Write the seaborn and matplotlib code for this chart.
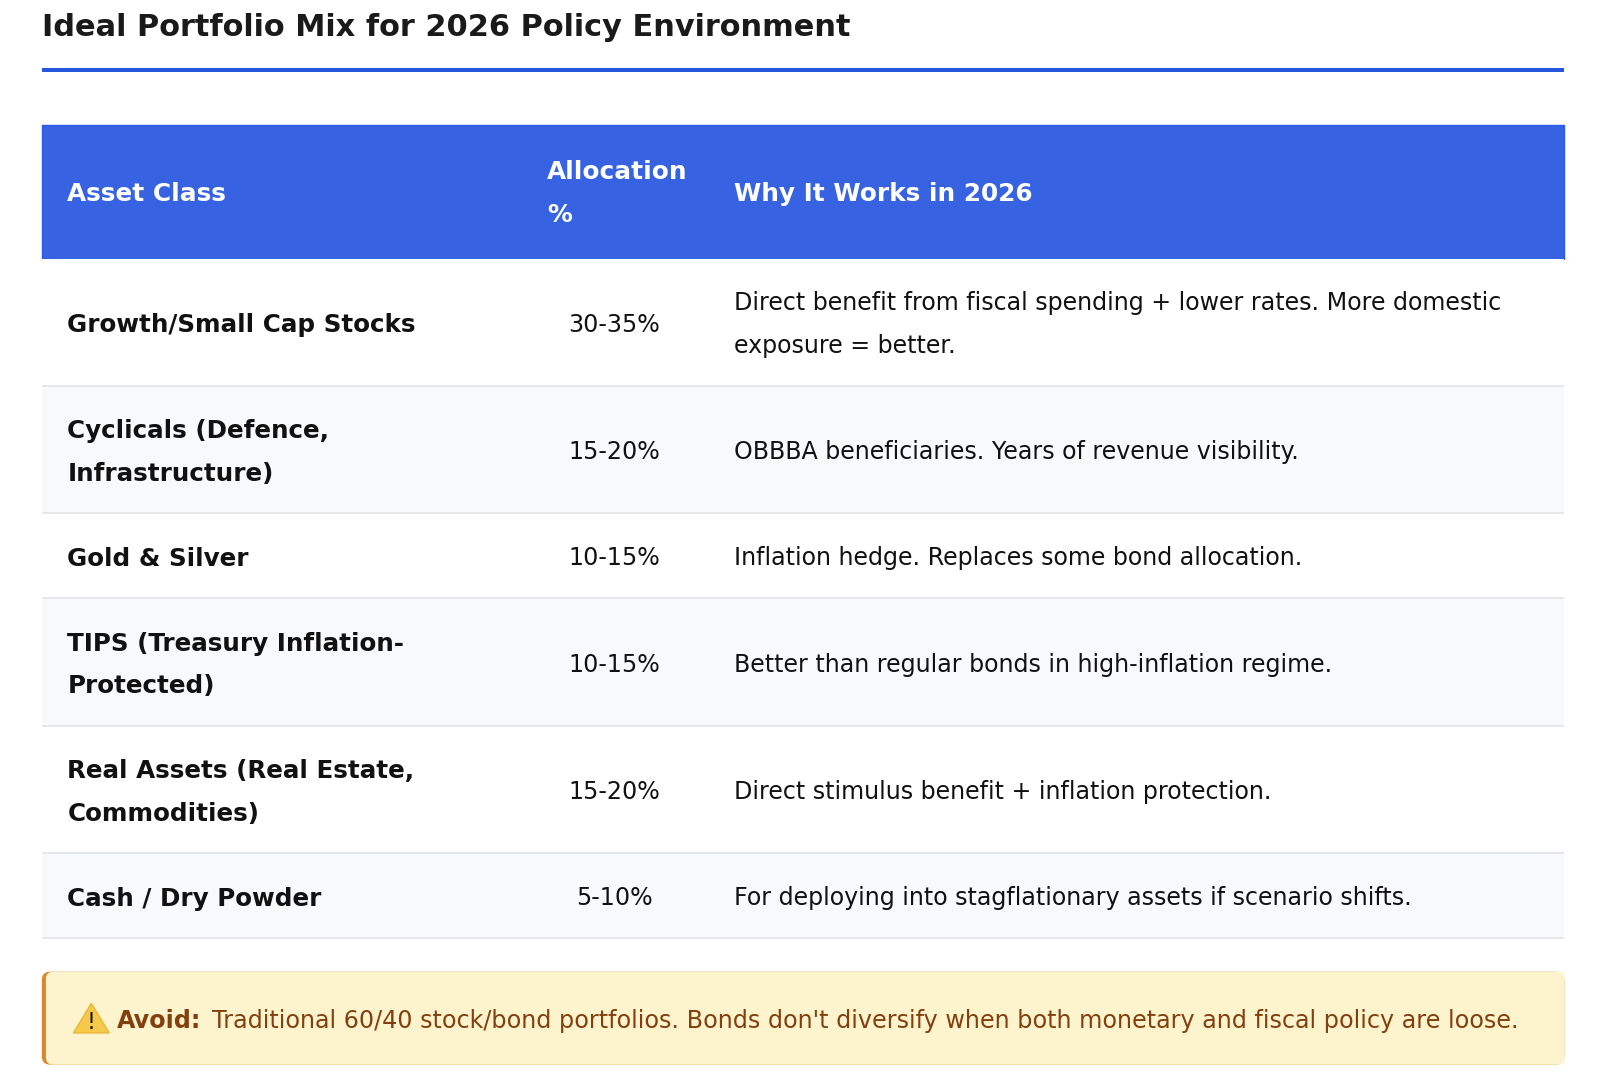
import matplotlib
matplotlib.use("Agg")
import matplotlib.pyplot as plt
from matplotlib.patches import Rectangle, FancyBboxPatch, Polygon
import seaborn as sns

# ---------------- data ----------------
title = "Ideal Portfolio Mix for 2026 Policy Environment"
headers = ["Asset Class", "Allocation\n%", "Why It Works in 2026"]
asset_classes = [
    "Growth/Small Cap Stocks",
    "Cyclicals (Defence,\nInfrastructure)",
    "Gold & Silver",
    "TIPS (Treasury Inflation-\nProtected)",
    "Real Assets (Real Estate,\nCommodities)",
    "Cash / Dry Powder",
]
allocations = ["30-35%", "15-20%", "10-15%", "10-15%", "15-20%", "5-10%"]
reasons = [
    "Direct benefit from fiscal spending + lower rates. More domestic\nexposure = better.",
    "OBBBA beneficiaries. Years of revenue visibility.",
    "Inflation hedge. Replaces some bond allocation.",
    "Better than regular bonds in high-inflation regime.",
    "Direct stimulus benefit + inflation protection.",
    "For deploying into stagflationary assets if scenario shifts.",
]
warn_label = "Avoid:"
warn_text = "Traditional 60/40 stock/bond portfolios. Bonds don't diversify when both monetary and fiscal policy are loose."

# ---------------- style ----------------
sns.set_theme(style="white")
plt.rcParams["font.family"] = ["DejaVu Sans"]

W, H = 1568.0, 1062.0          # layout units
S = 1600.0 / W                 # layout unit -> pixel

fig = plt.figure(figsize=(16, 10.84), dpi=100)
ax = fig.add_axes([0, 0, 1, 1])
ax.set_xlim(0, W)
ax.set_ylim(H, 0)
ax.axis("off")
renderer = fig.canvas.get_renderer()


def fit_size(text, target, weight):
    t = ax.text(0, 0, text, fontsize=20, fontweight=weight)
    w = t.get_window_extent(renderer).width
    t.remove()
    return 20.0 * target * S / w


def cap_half(size):
    # half cap-height in layout units
    return 0.73 * size * 100.0 / 72.0 / S / 2.0


title_fs = fit_size(title, 794, "bold")
head_fs = fit_size(headers[2], 292, "bold")
bold_fs = fit_size(asset_classes[0], 342, "bold")
body_fs = fit_size(reasons[0].split("\n")[0], 756, "normal")
warn_fs = fit_size(warn_text, 1281, "normal")

LEFT, RIGHT = 41, 1533
X_COL1, X_COL2C, X_COL3 = 66, 602, 719
LINE_GAP = 42
BLUE = "#3763E2"
TXT = "#111111"


def draw_lines(x, yc, text, size, weight, color, ha="left"):
    lines = text.split("\n")
    n = len(lines)
    for i, ln in enumerate(lines):
        y = yc + (i - (n - 1) / 2.0) * LINE_GAP
        ax.text(x, y + cap_half(size), ln, fontsize=size, fontweight=weight,
                color=color, ha=ha, va="baseline")


# title + rule
ax.text(LEFT, 24 + cap_half(title_fs), title, fontsize=title_fs,
        fontweight="bold", color="#1a1a1a", va="baseline")
ax.add_patch(Rectangle((LEFT, 67), RIGHT - LEFT, 3.5, color="#2456DE", lw=0))

# header
HEAD_TOP, HEAD_BOT = 122, 254
ax.add_patch(Rectangle((LEFT, HEAD_TOP), RIGHT - LEFT, HEAD_BOT - HEAD_TOP,
                       facecolor=BLUE, edgecolor="#2a5af0", lw=1))
hy = (HEAD_TOP + HEAD_BOT) / 2.0
draw_lines(X_COL1, hy, headers[0], head_fs, "bold", "white")
draw_lines(536, hy, headers[1], head_fs, "bold", "white")
draw_lines(X_COL3, hy, headers[2], head_fs, "bold", "white")

# body rows
y = HEAD_BOT
for i, (a, p, r) in enumerate(zip(asset_classes, allocations, reasons)):
    nl = max(a.count("\n"), r.count("\n")) + 1
    h = 41 + LINE_GAP * nl
    bg = "#ffffff" if i % 2 == 0 else "#f8f9fb"
    ax.add_patch(Rectangle((LEFT, y), RIGHT - LEFT, h, facecolor=bg, lw=0))
    ax.add_patch(Rectangle((LEFT, y + h - 2), RIGHT - LEFT, 2,
                           facecolor="#e5e7eb", lw=0))
    yc = y + h / 2.0
    draw_lines(X_COL1, yc, a, bold_fs, "bold", TXT)
    draw_lines(X_COL2C, yc, p, body_fs, "normal", TXT, ha="center")
    draw_lines(X_COL3, yc, r, body_fs, "normal", TXT)
    y += h

# warning box
BOX_TOP, BOX_BOT = 952, 1043
ax.add_patch(FancyBboxPatch((LEFT, BOX_TOP), RIGHT - LEFT, BOX_BOT - BOX_TOP,
                            boxstyle="round,pad=0,rounding_size=8",
                            facecolor="#d9882b", lw=0))
ax.add_patch(FancyBboxPatch((LEFT + 4, BOX_TOP), RIGHT - LEFT - 4,
                            BOX_BOT - BOX_TOP,
                            boxstyle="round,pad=0,rounding_size=7",
                            facecolor="#fdf3cd", lw=0))
wy = (BOX_TOP + BOX_BOT) / 2.0 + 1
# warning icon
ax.add_patch(Polygon([(72, 1012), (107, 1012), (89.5, 983)], closed=True,
                     facecolor="#f6c94a", edgecolor="#eab63c", lw=1,
                     joinstyle="round"))
ax.text(89.5, 1008.5, "!", fontsize=body_fs * 0.95, fontweight="normal",
        color="#111111", ha="center", va="baseline")
BROWN = "#83400f"
ax.text(115, wy + cap_half(warn_fs), warn_label, fontsize=warn_fs,
        fontweight="bold", color=BROWN, va="baseline")
ax.text(208, wy + cap_half(warn_fs), warn_text, fontsize=warn_fs,
        color=BROWN, va="baseline")

fig.savefig("out.png", dpi=100, facecolor="white")
